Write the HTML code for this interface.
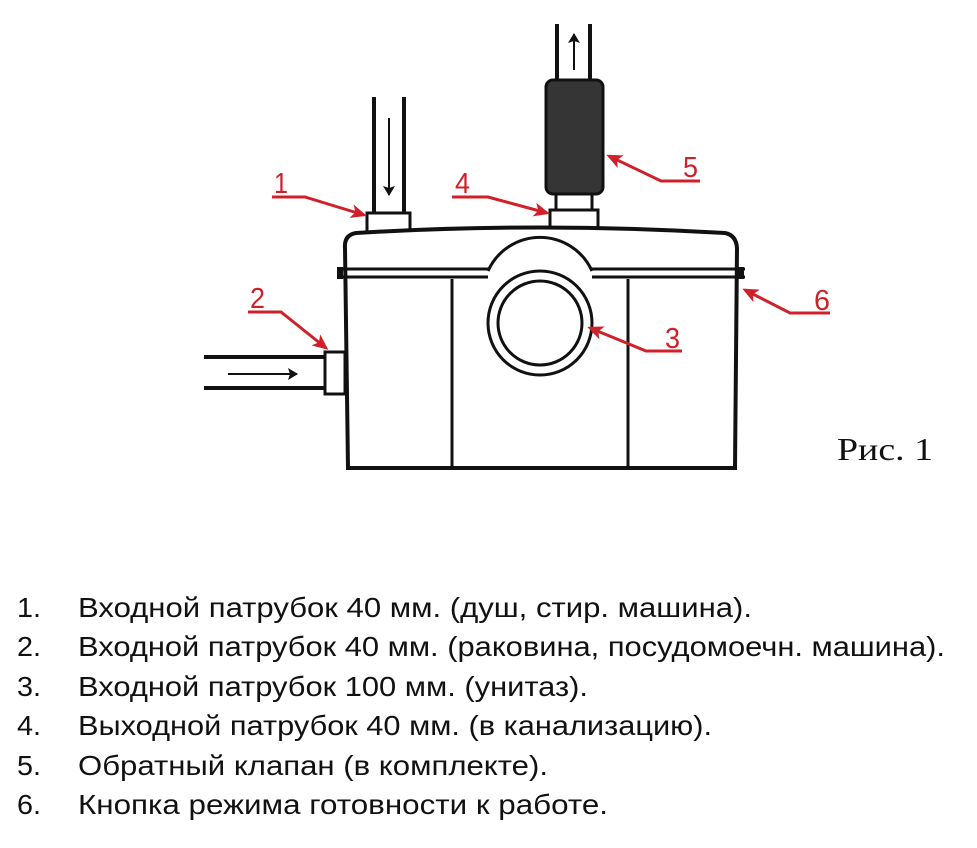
<!DOCTYPE html>
<html><head><meta charset="utf-8"><style>
html,body{margin:0;padding:0;background:#fff;}
svg{display:block;}
</style></head><body>
<svg width="977" height="848" viewBox="0 0 977 848" xmlns="http://www.w3.org/2000/svg">
<defs>
<marker id="ah" markerWidth="16" markerHeight="14" refX="13" refY="7" orient="auto" markerUnits="userSpaceOnUse">
<path d="M0,0 L16,7 L0,14 L4,7 Z" fill="#d0202a"/></marker>
<marker id="bh" markerWidth="10" markerHeight="12" refX="9" refY="6" orient="auto" markerUnits="userSpaceOnUse">
<path d="M0,0 L10,6 L0,12 L2,6 Z" fill="#111"/></marker>
</defs>
<g stroke="#111" stroke-width="4" fill="none">
<line x1="374" y1="97" x2="374" y2="213"/>
<line x1="404" y1="97" x2="404" y2="213"/>
<rect x="367" y="213" width="43" height="19" fill="#fff" stroke-width="3"/>
<line x1="557" y1="24" x2="557" y2="82"/>
<line x1="590" y1="24" x2="590" y2="82"/>
<rect x="546" y="80" width="57" height="114" rx="7" fill="#353535" stroke-width="3"/>
<rect x="556" y="194" width="36" height="16" fill="#fff" stroke-width="3"/>
<rect x="550" y="210" width="48" height="20" fill="#fff" stroke-width="3"/>
<line x1="204" y1="357" x2="326" y2="357"/>
<line x1="204" y1="388" x2="326" y2="388"/>
<rect x="325" y="352" width="20" height="42" fill="#fff" stroke-width="3"/>
<path d="M348,468 L345,248 Q344,235 356,233 Q540,222 725,233 Q736,235 737,248 L735,468 Z" fill="#fff"/>
<line x1="338" y1="269" x2="488" y2="269" stroke-width="3"/>
<line x1="338" y1="277" x2="488" y2="277" stroke-width="3"/>
<line x1="592" y1="269" x2="745" y2="269" stroke-width="3"/>
<line x1="592" y1="277" x2="745" y2="277" stroke-width="3"/>
<rect x="337" y="267" width="6" height="12" fill="#111" stroke="none"/>
<rect x="738" y="267" width="6" height="12" fill="#111" stroke="none"/>
<line x1="452" y1="279" x2="452" y2="467" stroke-width="3"/>
<line x1="628" y1="279" x2="628" y2="467" stroke-width="3"/>
<path d="M488,271 A57,57 0 0 1 592,271" stroke-width="3"/>
<circle cx="540" cy="323" r="52" stroke-width="3"/>
<circle cx="540" cy="323" r="42" stroke-width="3"/>
</g>
<g stroke="#111" stroke-width="2" fill="none">
<line x1="389" y1="118" x2="389" y2="195" marker-end="url(#bh)"/>
<line x1="574" y1="70" x2="574" y2="34" marker-end="url(#bh)"/>
<line x1="228" y1="374" x2="297" y2="374" marker-end="url(#bh)"/>
</g>
<g stroke="#d0202a" stroke-width="3" fill="none">
<polyline points="272,197 305,197 364,215" marker-end="url(#ah)"/>
<polyline points="452,197 488,197 547,213" marker-end="url(#ah)"/>
<polyline points="700,181 661,181 609,156" marker-end="url(#ah)"/>
<polyline points="248,312 281,312 326,348" marker-end="url(#ah)"/>
<polyline points="682,351 646,351 590,328" marker-end="url(#ah)"/>
<polyline points="830,313 790,313 745,290" marker-end="url(#ah)"/>
</g>
<g fill="#d0202a" font-family="Liberation Sans, sans-serif" font-size="29">
<text x="274" y="193" textLength="14" lengthAdjust="spacingAndGlyphs">1</text>
<text x="455" y="193" textLength="15" lengthAdjust="spacingAndGlyphs">4</text>
<text x="683" y="177" textLength="15" lengthAdjust="spacingAndGlyphs">5</text>
<text x="250" y="308" textLength="15" lengthAdjust="spacingAndGlyphs">2</text>
<text x="665" y="348" textLength="15" lengthAdjust="spacingAndGlyphs">3</text>
<text x="814" y="310" textLength="16" lengthAdjust="spacingAndGlyphs">6</text>
</g>
<text x="837" y="460" font-family="Liberation Serif, serif" font-size="32" fill="#111" textLength="96" lengthAdjust="spacingAndGlyphs">Рис. 1</text>
<g font-family="Liberation Sans, sans-serif" font-size="28" fill="#111">
<text x="17" y="617" textLength="24" lengthAdjust="spacingAndGlyphs">1.</text><text x="78" y="617" textLength="674" lengthAdjust="spacingAndGlyphs">Входной патрубок 40 мм. (душ, стир. машина).</text>
<text x="17" y="656" textLength="24" lengthAdjust="spacingAndGlyphs">2.</text><text x="78" y="656" textLength="867" lengthAdjust="spacingAndGlyphs">Входной патрубок 40 мм. (раковина, посудомоечн. машина).</text>
<text x="17" y="696" textLength="24" lengthAdjust="spacingAndGlyphs">3.</text><text x="78" y="696" textLength="510" lengthAdjust="spacingAndGlyphs">Входной патрубок 100 мм. (унитаз).</text>
<text x="17" y="735" textLength="24" lengthAdjust="spacingAndGlyphs">4.</text><text x="78" y="735" textLength="634" lengthAdjust="spacingAndGlyphs">Выходной патрубок 40 мм. (в канализацию).</text>
<text x="17" y="775" textLength="24" lengthAdjust="spacingAndGlyphs">5.</text><text x="78" y="775" textLength="470" lengthAdjust="spacingAndGlyphs">Обратный клапан (в комплекте).</text>
<text x="17" y="814" textLength="24" lengthAdjust="spacingAndGlyphs">6.</text><text x="78" y="814" textLength="530" lengthAdjust="spacingAndGlyphs">Кнопка режима готовности к работе.</text>
</g>
</svg>
</body></html>
